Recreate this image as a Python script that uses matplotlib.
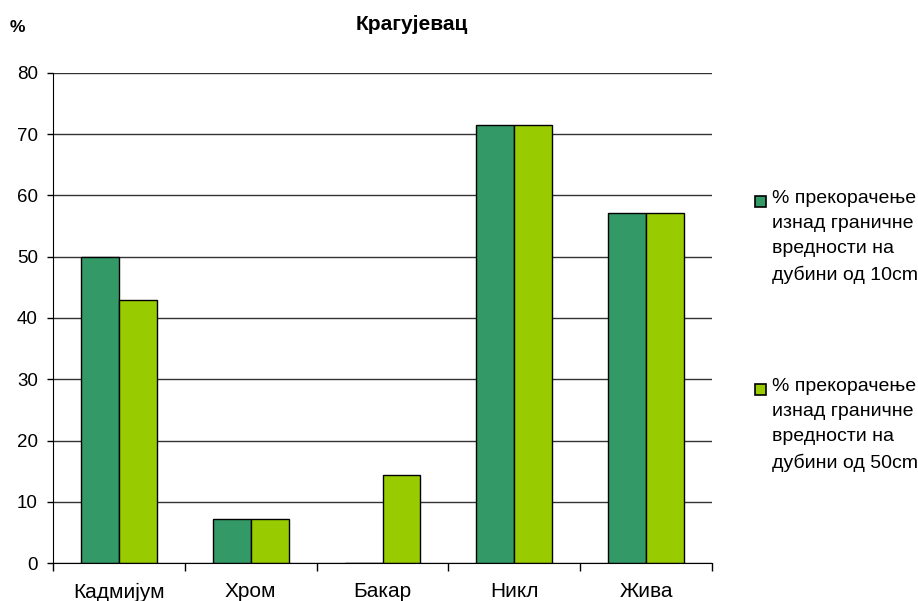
import matplotlib
matplotlib.use("Agg")
import matplotlib.pyplot as plt
import numpy as np
from matplotlib.patches import Rectangle

plt.rcParams['font.family'] = ['Liberation Sans', 'DejaVu Sans']

categories = ['Кадмијум', 'Хром', 'Бакар', 'Никл', 'Жива']
depth10 = [50.0, 7.14, 0.0, 71.43, 57.14]
depth50 = [42.86, 7.14, 14.29, 71.43, 57.14]
series_labels = ['% прекорачење\nизнад граничне\nвредности на\nдубини од 10cm',
                 '% прекорачење\nизнад граничне\nвредности на\nдубини од 50cm']
colors = ['#339966', '#99CC00']
title = 'Крагујевац'
yticks = [0, 10, 20, 30, 40, 50, 60, 70, 80]

fig = plt.figure(figsize=(9.18, 6.01), dpi=100)
ax = fig.add_axes([53/918, 1-563/601, (712-53)/918, (563-73)/601])

x = np.arange(len(categories))
w = 0.288
ax.bar(x - w/2, depth10, w, color=colors[0], edgecolor='black', linewidth=1, zorder=3)
ax.bar(x + w/2, depth50, w, color=colors[1], edgecolor='black', linewidth=1, zorder=3)

ax.set_xlim(-0.5, len(categories)-0.5)
ax.set_ylim(0, 80)
ax.set_yticks(yticks)
ax.set_yticklabels([str(t) for t in yticks], fontsize=13.5)
ax.yaxis.grid(True, color='#333333', linewidth=1, zorder=0)
ax.set_axisbelow(True)
for s in ['top', 'right']:
    ax.spines[s].set_visible(False)
ax.spines['left'].set_color('black')
ax.spines['bottom'].set_color('black')
ax.spines['bottom'].set_zorder(4)
ax.tick_params(axis='y', length=4.5, width=1, pad=6.5)

# category labels with boundary ticks
ax.set_xticks(np.arange(-0.5, len(categories), 1.0))
ax.set_xticklabels([])
ax.tick_params(axis='x', which='major', length=6, width=1)
ax.set_xticks(x, minor=True)
ax.set_xticklabels(categories, minor=True, fontsize=15)
ax.tick_params(axis='x', which='minor', length=0, pad=14)

fig.text(412/918, 1-24/601, title, ha='center', va='center', fontsize=15, fontweight='bold')
fig.text(17/918, 1-28/601, '%', ha='center', va='center', fontsize=12.5, fontweight='bold')

# legend
leg_y = [199, 387]
for i, (lab, c) in enumerate(zip(series_labels, colors)):
    y0 = leg_y[i]
    fig.patches.append(Rectangle((755/918, 1-(y0+8)/601), 11/918, 11/601,
                                 transform=fig.transFigure, facecolor=c,
                                 edgecolor='black', linewidth=1.2))
    fig.text(772/918, 1-(y0-9)/601, lab, ha='left', va='top', fontsize=14,
             linespacing=1.62)

fig.savefig('out.png', dpi=100)
